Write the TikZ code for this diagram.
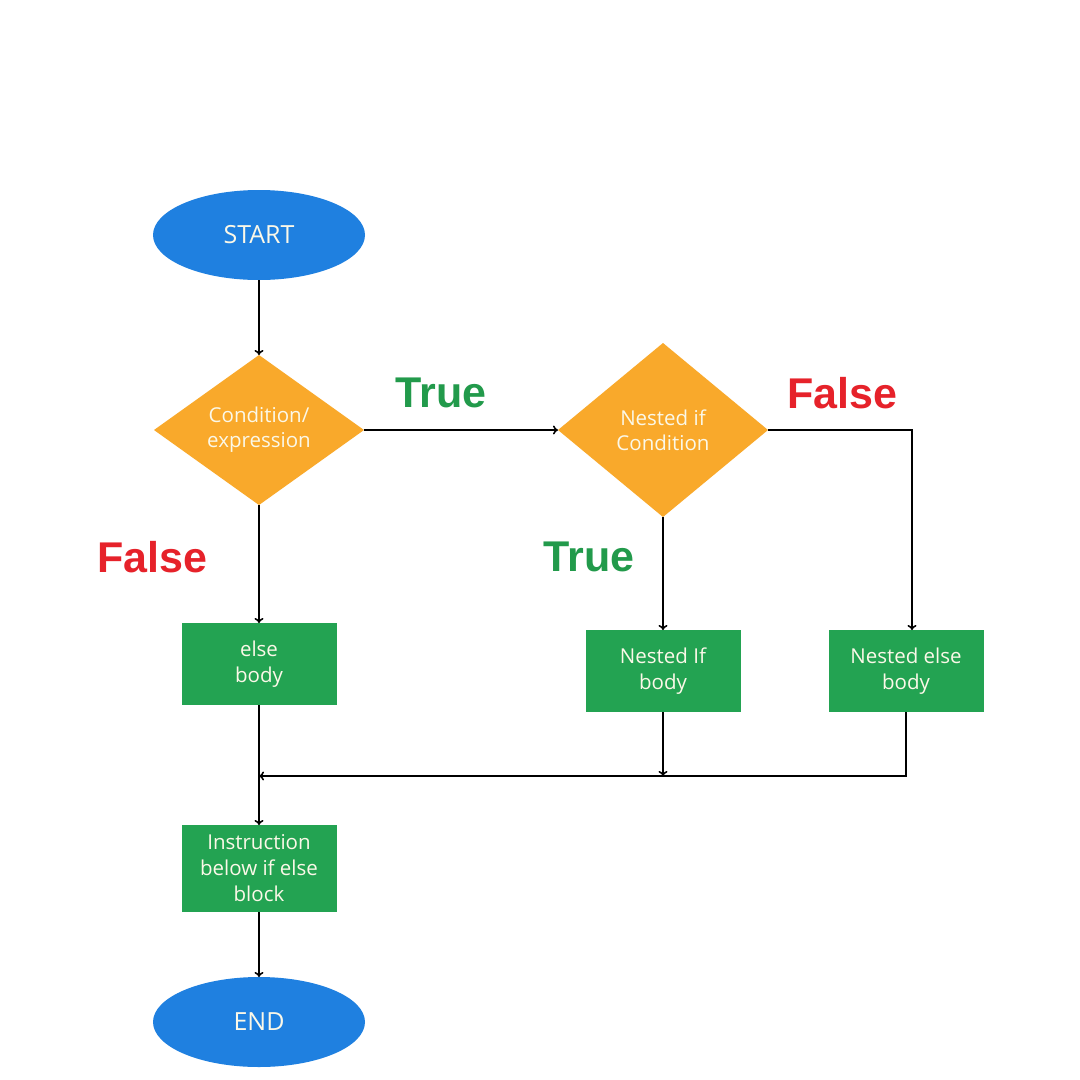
\documentclass[tikz,border=0pt]{standalone}
\usepackage{fontspec}
\setmainfont{Open Sans}
\newfontfamily\labfont{Liberation Sans}
\usetikzlibrary{shapes.geometric,arrows.meta}
\definecolor{bblue}{HTML}{1F80E0}
\definecolor{borange}{HTML}{F9A92B}
\definecolor{bgreen}{HTML}{23A352}
\definecolor{lgreen}{HTML}{229A4B}
\definecolor{lred}{HTML}{E6222A}
\definecolor{ttext}{HTML}{FBF8E8}
\tikzset{
  term/.style={ellipse, fill=bblue, text=ttext, minimum width=212pt, minimum height=90pt, inner sep=0pt, outer sep=0pt, font=\fontsize{25}{28}\selectfont},
  decision/.style={diamond, fill=borange, text=ttext, inner sep=0pt, outer sep=0pt, align=center, font=\fontsize{20.5}{25}\selectfont},
  procbox/.style={rectangle, fill=bgreen, text=ttext, minimum width=155pt, inner sep=0pt, outer sep=0pt, align=center, font=\fontsize{20.5}{26}\selectfont},
  conn/.style={line width=1.6pt, -{To[length=5pt,width=9pt]}},
  tlab/.style={font=\labfont\bfseries\fontsize{43}{46}\selectfont, text=lgreen},
  flab/.style={font=\labfont\bfseries\fontsize{43}{46}\selectfont, text=lred}
}
\begin{document}
\begin{tikzpicture}[x=1pt,y=-1pt]
\useasboundingbox[fill=white] (0,0) rectangle (1080,1080);
\node[term] (start) at (259,235) {START};
\node[decision, minimum width=210pt, minimum height=150pt] (d1) at (259,430) {Condition/\\expression};
\node[decision, minimum width=210pt, minimum height=174pt] (d2) at (663,430) {Nested if\\Condition};
\node[procbox, minimum height=82pt] (else) at (259,664) {else\\body};
\node[procbox, minimum height=82pt] (nib) at (663,671) {Nested If\\body};
\node[procbox, minimum height=82pt] (neb) at (906,671) {Nested else\\body};
\node[procbox, minimum height=87pt] (instr) at (259,868.5) {Instruction\\below if else\\block};
\node[term] (end) at (259,1022) {END};
\node[tlab] (t1) at (441,393) {True};
\node[flab] (f1) at (842,393) {False};
\node[flab] (f2) at (152,557) {False};
\node[tlab] (t2) at (589,557) {True};
\coordinate (merge) at (259,776);
\coordinate (nebturn) at (912,430);
\draw[conn] (start.south) -- (d1.north);
\draw[conn] (d1.east) -- (d2.west);
\draw[conn] (d1.south) -- (else.north);
\draw[conn] (d2.south) -- (nib.north);
\draw[conn] (d2.east) -- (nebturn) -- (nebturn |- neb.north);
\draw[conn] (nib.south) -- (nib.south |- merge);
\draw[conn] (neb.south) -- (neb.south |- merge) -- (merge);
\draw[conn] (else.south) -- (instr.north);
\draw[conn] (instr.south) -- (end.north);
\end{tikzpicture}
\end{document}
